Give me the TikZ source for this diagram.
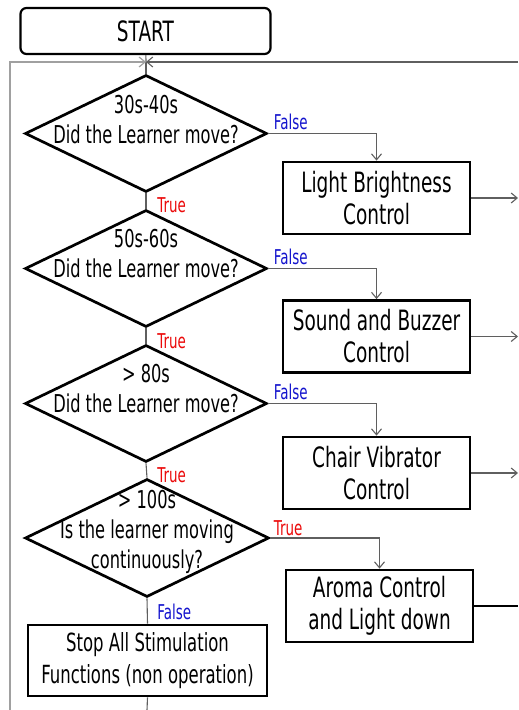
\documentclass[tikz,border=0pt]{standalone}
\usepackage{fontspec}
\setmainfont{DejaVu Sans}[FakeStretch=0.66]
\usepackage{xcolor}
\usepackage{tikz}
\usetikzlibrary{shapes,arrows,arrows.meta}
\usetikzlibrary{calc}
\definecolor{falseblue}{RGB}{20,20,205}
\definecolor{truered}{RGB}{235,10,10}
\definecolor{wiregray}{RGB}{95,95,95}
\definecolor{loopgray}{RGB}{160,160,160}
\tikzset{
    decision/.style={draw, diamond, line width=1.35pt, inner sep=0pt, minimum width=121pt, minimum height=58.5pt},
    dtext/.style={align=center, inner sep=0pt, font=\fontsize{12.3}{15}\selectfont},
    ctrl/.style={draw, rectangle, line width=1.35pt, align=center, inner sep=0pt, minimum width=93.5pt, minimum height=36pt, font=\fontsize{14}{16}\selectfont},
    startbox/.style={draw, rectangle, rounded corners=3pt, line width=1.1pt, inner sep=0pt, minimum width=125pt, minimum height=23pt, font=\fontsize{14}{16}\selectfont},
    barb/.tip={Straight Barb[length=3pt,width=5pt]}}
\tikzset{
    wire/.style={draw=wiregray, line width=0.55pt},
    loopwire/.style={draw=loopgray, line width=0.6pt},
    falsetag/.style={text=falseblue, inner sep=0pt, font=\fontsize{10.2}{12}\selectfont},
    truetag/.style={text=truered, inner sep=0pt, font=\fontsize{10.2}{12}\selectfont}
}

\begin{document}
\begin{tikzpicture}[x=0.5pt,y=-0.5pt]
\useasboundingbox (0,0) rectangle (518,710);

\node[startbox] (start) at (145.5,31) {START};

\coordinate (jn) at (146,62) ;
\coordinate (lb) at (10,710) ;
\coordinate (rt) at (518,62) ;
\coordinate (sb) at (147,710) ;

% the four checks
\node[decision] (q1) at (146,133.5) {};
\node[decision] (q2) at (146,268.5) {};
\node[decision] (q3) at (146,403.5) {};
\node[decision, minimum width=122pt, minimum height=59pt] (q4) at (147,538) {};

\node[dtext] (q1t) at ($(q1)+(0,-14)$) {30s-40s\\Did the Learner move?};
\node[dtext] (q2t) at ($(q2)+(0,-15)$) {50s-60s\\Did the Learner move?};
\node[dtext] (q3t) at ($(q3)+(0,-15)$) {> 80s\\Did the Learner move?};
\node[dtext] (q4t) at ($(q4)+(0,-6)$) {> 100s\\Is the learner moving\\continuously?};

% controls
\node[ctrl] (b1) at (376.5,198) {Light Brightness\\Control};
\node[ctrl] (b2) at (376.5,336.5) {Sound and Buzzer\\Control};
\node[ctrl] (b3) at (376.5,473) {Chair Vibrator\\Control};
\node[ctrl] (b4) at (379.5,606) {Aroma Control\\and Light down};
\node[ctrl, minimum width=119.5pt, minimum height=35.5pt, font=\fontsize{12.5}{16}\selectfont] (stop) at (147.5,660.5) {Stop All Stimulation\\Functions (non operation)};

\coordinate (r1) at (518,198) ;
\coordinate (r2) at (518,336.5) ;
\coordinate (r3) at (518,473) ;
\coordinate (r4) at (518,606) ;

% loop back to the top
\draw [wire](start)--(jn);
\draw [wire](jn)--(q1);
\draw [loopwire,-barb](lb) |- (jn);
\draw [wire,-barb](rt)--(jn);

\draw [wire,-barb](q1.east) -| (b1.north);
\draw [wire,-barb](q2.east) -| (b2.north);
\draw [wire,-barb](q3.east) -| (b3.north);
\draw [wire,-barb](q4.east) -| (b4.north);

\draw [wire](q1.south)--(q2.north);
\draw [wire](q2.south)--(q3.north);
\draw [wire](q3.south)--(q4.north);
\draw [wire](q4.south)--(stop.north);
\draw [wire](stop.south)--(sb);

\draw [wire,-barb](b1.east)--(r1);
\draw [wire,-barb](b2.east)--(r2);
\draw [wire,-barb](b3.east)--(r3);
\draw [draw=black, line width=0.6pt](b4.east)--(r4);

\node[falsetag, anchor=base west] (f1) at ($(q1.east)+(5,-4)$) {False};
\node[falsetag, anchor=base west] (f2) at ($(q2.east)+(5,-4)$) {False};
\node[falsetag, anchor=base west] (f3) at ($(q3.east)+(5,-4)$) {False};
\node[truetag, anchor=base west] (t4) at ($(q4.east)+(3,-3)$) {True};

\node[truetag, anchor=base west] (t1) at ($(q1.south)+(11,19)$) {True};
\node[truetag, anchor=base west] (t2) at ($(q2.south)+(11,20)$) {True};
\node[truetag, anchor=base west] (t3) at ($(q3.south)+(11,19)$) {True};
\node[falsetag, anchor=base west] (f4) at ($(q4.south)+(10,21)$) {False};
\end{tikzpicture}
\end{document}
